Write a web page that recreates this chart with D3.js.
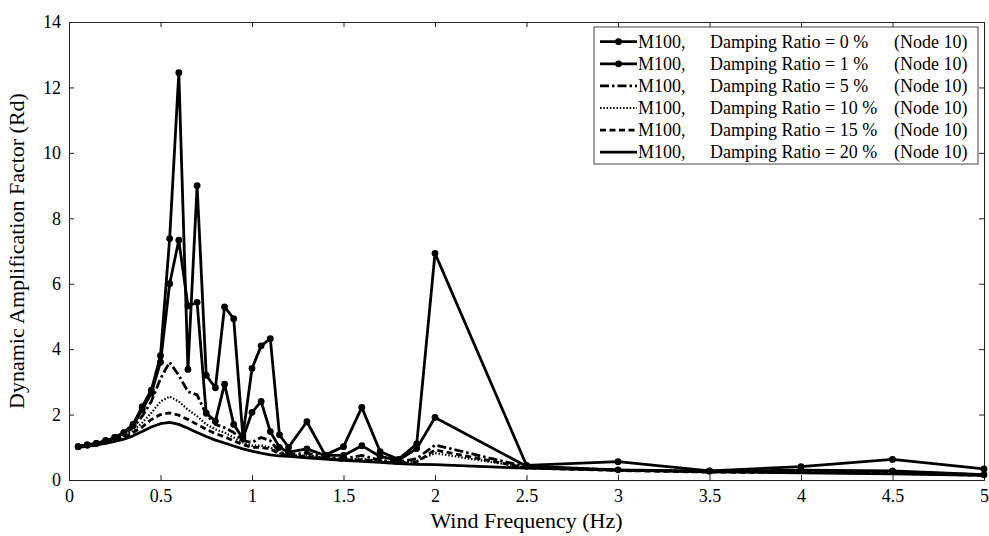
<!DOCTYPE html>
<html>
<head>
<meta charset="utf-8">
<script src="https://d3js.org/d3.v7.min.js"></script>
<style>
body{margin:0;background:#fff;}
text{font-family:"Liberation Serif","Times New Roman",serif;fill:#000;}
</style>
</head>
<body>
<div class="canvas"></div>
<script>
//wind frequency (Hz) and DAF values
var freq = [0.05,0.1,0.15,0.2,0.25,0.3,0.35,0.4,0.45,0.5,0.55,0.6,0.65,0.7,0.75,0.8,0.85,0.9,0.95,1.0,1.05,1.1,1.15,1.2,1.3,1.4,1.5,1.6,1.7,1.8,1.9,2.0,2.5,3.0,3.5,4.0,4.5,5.0];

var daf0  = [1.02,1.07,1.12,1.2,1.3,1.45,1.7,2.24,2.75,3.8,7.38,12.45,3.38,9.0,3.2,2.82,5.29,4.93,1.35,3.41,4.1,4.32,1.38,1.0,1.78,0.76,1.02,2.22,0.87,0.63,1.1,6.93,0.45,0.56,0.28,0.41,0.63,0.34];
var daf1  = [1.02,1.07,1.12,1.2,1.3,1.44,1.66,2.15,2.65,3.6,6.0,7.33,5.32,5.43,2.04,1.8,2.93,1.7,1.27,2.07,2.4,1.48,1.0,0.85,0.95,0.75,0.75,1.05,0.72,0.6,0.96,1.91,0.42,0.31,0.27,0.3,0.28,0.16];
var daf5  = [1.02,1.06,1.11,1.18,1.27,1.4,1.6,1.95,2.4,3.1,3.6,3.2,2.7,2.6,2.0,1.7,1.6,1.45,1.2,1.15,1.3,1.2,0.85,0.78,0.82,0.7,0.65,0.75,0.6,0.55,0.65,1.07,0.4,0.3,0.26,0.27,0.25,0.16];
var daf10 = [1.01,1.05,1.1,1.16,1.24,1.35,1.5,1.75,2.05,2.4,2.55,2.4,2.15,1.95,1.7,1.55,1.45,1.3,1.15,1.05,1.05,1.0,0.82,0.75,0.75,0.68,0.62,0.65,0.58,0.52,0.58,0.82,0.38,0.3,0.25,0.24,0.22,0.15];
var daf15 = [1.01,1.05,1.09,1.15,1.22,1.3,1.45,1.62,1.85,2.0,2.05,1.98,1.85,1.7,1.55,1.42,1.32,1.2,1.08,1.0,1.0,0.95,0.8,0.74,0.72,0.66,0.6,0.62,0.56,0.5,0.55,0.92,0.37,0.29,0.24,0.23,0.21,0.14];
var daf20 = [1.0,1.03,1.07,1.12,1.18,1.25,1.35,1.48,1.62,1.72,1.76,1.7,1.58,1.45,1.33,1.22,1.13,1.04,0.95,0.88,0.82,0.77,0.74,0.72,0.68,0.64,0.6,0.57,0.54,0.5,0.48,0.47,0.36,0.3,0.25,0.22,0.19,0.14];

var ratios = ['0','1','5','10','15','20'];
var xTicks = [0,0.5,1,1.5,2,2.5,3,3.5,4,4.5,5];
var yTicks = [0,2,4,6,8,10,12,14];

//line styles per series
var series = [
	{vals:daf0,  dash:null,        w:2.8, marker:true},
	{vals:daf1,  dash:null,        w:2.8, marker:true},
	{vals:daf5,  dash:'9,3,2.5,3', w:2.8, marker:false},
	{vals:daf10, dash:'1.5,1.8',   w:2.2, marker:false},
	{vals:daf15, dash:'6,3.5',     w:2.8, marker:false},
	{vals:daf20, dash:null,        w:2.8, marker:false}
];

var margin = {t:22,r:5,b:56,l:69};
var W = 989, H = 536;
var width = W-margin.l-margin.r,
	height = H-margin.t-margin.b;

var svg = d3.select('.canvas')
	.append('svg')
	.attr('width',W)
	.attr('height',H);

var plot = svg.append('g')
	.attr('transform','translate('+margin.l+','+margin.t+')');

var x = d3.scaleLinear().domain([0,5]).range([0,width]);
var y = d3.scaleLinear().domain([0,14]).range([height,0]);

//axes with inward ticks on all four sides
plot.append('g')
	.attr('transform','translate(0,'+height+')')
	.call(d3.axisBottom(x).tickValues(xTicks).tickSize(-5).tickPadding(9).tickFormat(d3.format('')))
plot.append('g')
	.call(d3.axisTop(x).tickValues(xTicks).tickSize(-5).tickFormat(''))
plot.append('g')
	.call(d3.axisLeft(y).tickValues(yTicks).tickSize(-5).tickPadding(8))
plot.append('g')
	.attr('transform','translate('+width+',0)')
	.call(d3.axisRight(y).tickValues(yTicks).tickSize(-5).tickFormat(''))

plot.selectAll('.domain').attr('stroke','#222').attr('stroke-width',1);
plot.selectAll('.tick line').attr('stroke','#222');
plot.selectAll('.tick text').style('font-size','18px').style('font-family','"Liberation Serif",serif');

var line = d3.line()
	.x(function(d,i){return x(freq[i]);})
	.y(function(d){return y(d);});

//draw from most damped to least so peaks sit on top
series.slice().reverse().forEach(function(s){
	plot.append('path')
		.datum(s.vals)
		.attr('d',line)
		.attr('fill','none')
		.attr('stroke','#000')
		.attr('stroke-width',s.w)
		.attr('stroke-linejoin','round')
		.attr('stroke-dasharray',s.dash);
	if(s.marker){
		plot.selectAll(null)
			.data(s.vals)
			.enter()
			.append('circle')
			.attr('cx',function(d,i){return x(freq[i]);})
			.attr('cy',function(d){return y(d);})
			.attr('r',3.4)
			.attr('fill','#000');
	}
})

//axis titles
svg.append('text')
	.attr('x',margin.l+width/2)
	.attr('y',528)
	.attr('text-anchor','middle')
	.style('font-size','22px')
	.text('Wind Frequency  (Hz)');

svg.append('text')
	.attr('transform','translate(24,'+(margin.t+height/2)+') rotate(-90)')
	.attr('text-anchor','middle')
	.style('font-size','22px')
	.text('Dynamic Amplification Factor  (Rd)');

//legend
var lg = svg.append('g').attr('transform','translate(594,27)');
lg.append('rect')
	.attr('width',384)
	.attr('height',137)
	.attr('fill','#fff')
	.attr('stroke','#444')
	.attr('stroke-width',1);

series.forEach(function(s,i){
	var ry = 14.7+i*22.1;
	lg.append('line')
		.attr('x1',6).attr('x2',43)
		.attr('y1',ry).attr('y2',ry)
		.attr('stroke','#000')
		.attr('stroke-width',s.w)
		.attr('stroke-dasharray',s.dash);
	if(s.marker){
		lg.append('circle').attr('cx',24.5).attr('cy',ry).attr('r',3.4).attr('fill','#000');
	}
	lg.append('text').attr('x',44).attr('y',ry+6).style('font-size','18px').text('M100,');
	lg.append('text').attr('x',116).attr('y',ry+6).style('font-size','18px').text('Damping Ratio = '+ratios[i]+' %');
	lg.append('text').attr('x',300).attr('y',ry+6).style('font-size','18px').text('(Node 10)');
})
</script>
</body>
</html>
